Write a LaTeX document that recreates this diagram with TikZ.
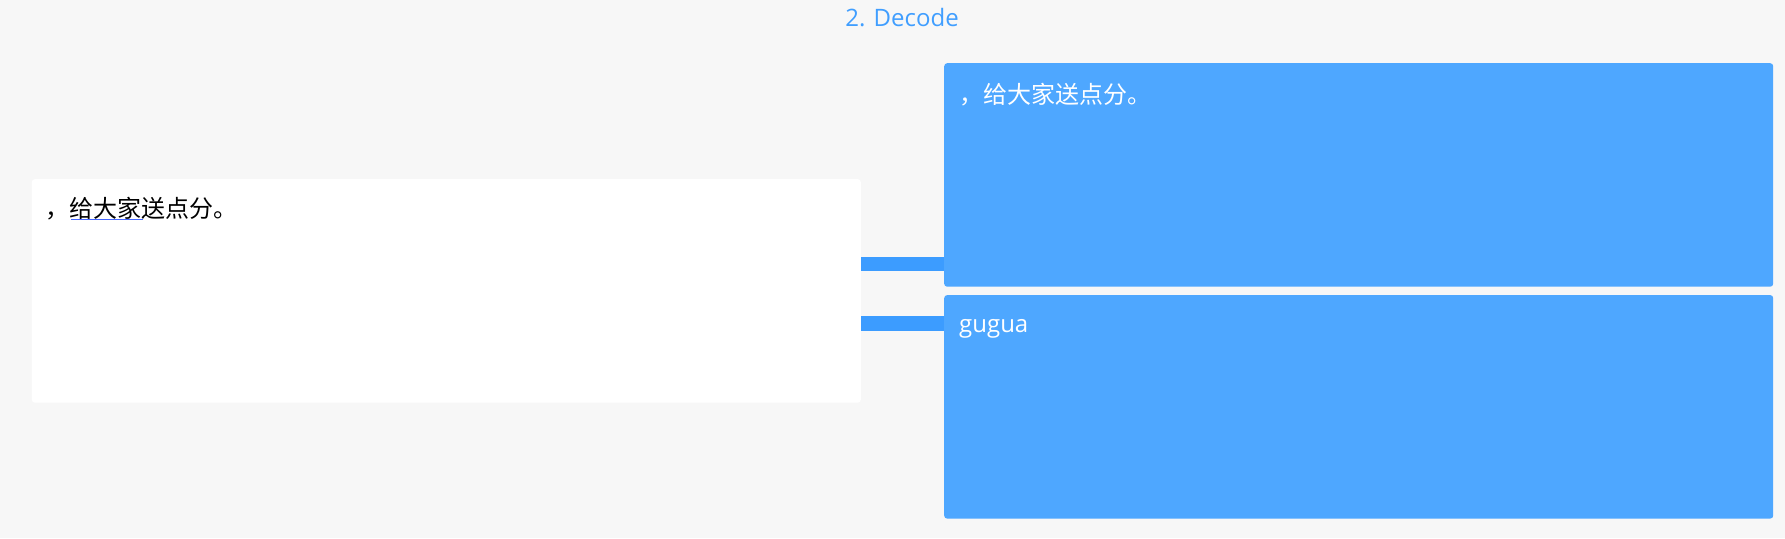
\documentclass[tikz,border=0pt]{standalone}
\usepackage{fontspec}
\setmainfont{Open Sans}
\newfontfamily\cjk{Noto Sans CJK SC}
\usepackage{tikz}
\usetikzlibrary{positioning}
\usetikzlibrary{calc}
\definecolor{bg_grey}{HTML}{F7F7F7}
\definecolor{box_blue}{HTML}{4EA7FF}
\definecolor{link_blue}{HTML}{3C9CFF}
\definecolor{title_blue}{HTML}{409EFF}
\definecolor{mark_blue}{HTML}{4466FF}
\tikzset{
  panel/.style = {anchor=north west, inner sep=0pt, rounded corners=3pt,
    minimum width=829pt, minimum height=223.5pt},
  box_w/.style = {panel, fill=white},% input box
  box_b/.style = {panel, fill=box_blue},% decoded box
  txt_k/.style = {anchor=base west, inner sep=0pt,
    font=\fontsize{24}{28}\selectfont, black},% dark text
  txt_w/.style = {txt_k, white},% light text
  link_b/.style = {draw=link_blue, line width=14.5pt},% bar between boxes
  uline/.style = {draw=mark_blue, line width=1.5pt}
}

\begin{document}
\begin{tikzpicture}[x=1pt,y=-1pt]
\fill[bg_grey] (0,0) rectangle (1785,538);
\useasboundingbox (0,0) rectangle (1785,538);
\node[txt_k, anchor=base, title_blue] (title) at (902,27) {2. Decode};
\node[box_b] (dst_a) at (944,63) {};
\node[box_b, below=8pt of dst_a] (dst_b) {};
\coordinate (mid) at ($(dst_a.south west)!0.5!(dst_b.north west)$);
\node[box_w, left=83pt of mid] (src) {};
\node[txt_k] (t_src) at ([xshift=14pt,yshift=-39pt]src.north west)
  {\cjk ，给大家送点分。};
\node[txt_w] (t_a) at ([xshift=15pt,yshift=-40pt]dst_a.north west)
  {\cjk ，给大家送点分。};
\node[txt_w] (t_b) at ([xshift=15pt,yshift=-38pt]dst_b.north west) {gugua};
\draw[uline] (71,219.5) -- (143,219.5);
\coordinate (bar_a) at ([yshift=23pt]dst_a.south west);
\coordinate (bar_b) at ([yshift=-28.5pt]dst_b.north west);
\draw[link_b] (src.east |- bar_a) -- (bar_a);
\draw[link_b] (src.east |- bar_b) -- (bar_b);
\end{tikzpicture}
\end{document}
